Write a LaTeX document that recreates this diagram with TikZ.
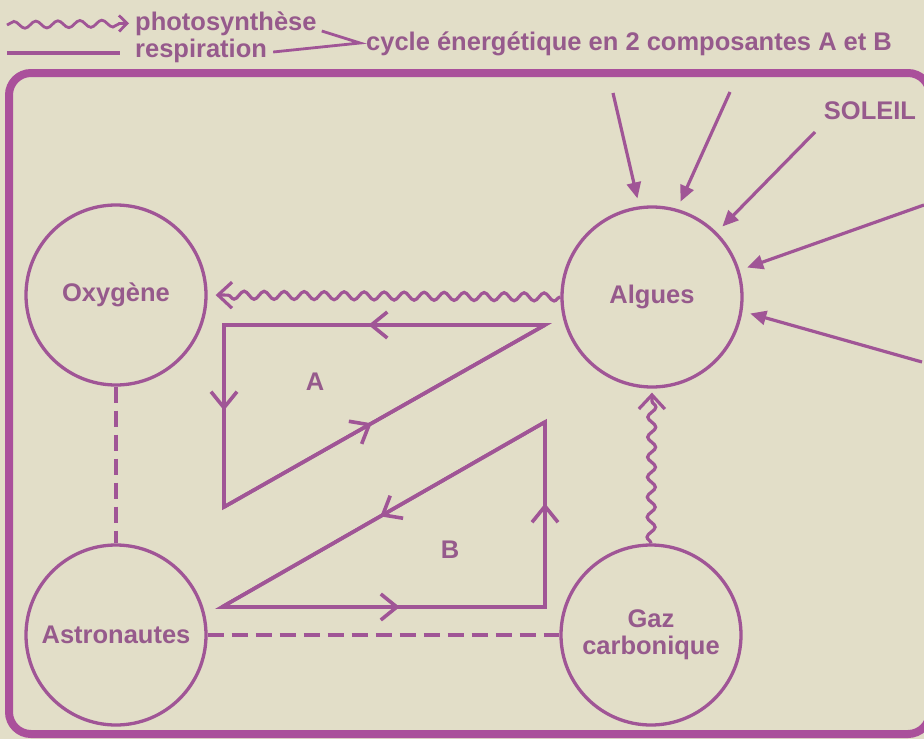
\documentclass[tikz,border=0pt]{standalone}
\usepackage{fontspec}
\setmainfont{Liberation Sans}
\usepackage{tikz}
\usetikzlibrary{arrows.meta,decorations.pathmorphing,decorations.markings}

\definecolor{paper}{HTML}{E2DEC8}
\definecolor{plum}{HTML}{A05596}
\definecolor{plumdark}{HTML}{AA509B}
\definecolor{ink}{HTML}{965A8C}

\newcommand{\lblfont}{\fontsize{25.5}{27}\selectfont\bfseries}

\tikzstyle{ball} = [circle, draw=plum, line width=3.3pt, minimum size=180pt, inner sep=0pt, text=ink, font=\lblfont, align=center]
\tikzstyle{lbl} = [text=ink, font=\lblfont, inner sep=0pt]
\tikzstyle{ray} = [draw=plum, line width=3.2pt, -{Triangle[length=16pt,width=14pt]}, shorten >=8pt]
\tikzstyle{wave} = [draw=plum, line width=3.2pt, decorate, decoration={snake, amplitude=4pt, segment length=20pt, post length=12pt}, -{Straight Barb[length=14pt,width=26pt]}]
\tikzstyle{flow} = [draw=plum, line width=3.6pt]
\tikzstyle{link} = [draw=plum, line width=3.3pt, dash pattern=on 16pt off 8pt]
\tikzset{tipat/.style={postaction={decorate, decoration={markings, mark=at position #1 with {\arrow{Straight Barb[length=16pt,width=26pt]}}}}}}

\begin{document}
\begin{tikzpicture}[x=1pt,y=-1pt]
			\fill[paper] (0,0) rectangle (924,739);
			\useasboundingbox (0,0) rectangle (924,739);
			% legend
			\coordinate (lw0) at (7,25);
			\coordinate (lr0) at (7,53);
			\coordinate (lr1) at (120,53);
			\coordinate (vtx) at (360,43);
			\node[lbl, anchor=base west] (photo) at (135,30) {photosynthèse};
			\node[lbl, anchor=base west] (resp) at (135,57) {respiration};
			\node[lbl, anchor=base west] (cyc) at (366,50) {cycle énergétique en 2 composantes A et B};
			\draw[wave, line width=2.8pt, decoration={snake, amplitude=3.5pt, segment length=22pt, post length=8pt}, -{Straight Barb[length=8pt,width=16pt]}] (lw0) -- ([xshift=-6pt]photo.west);
			\draw[plum, line width=4.5pt] (lr0) -- (lr1);
			\draw[plum, line width=2.8pt] ([xshift=5pt,yshift=-1pt]photo.base east) -- (vtx) -- ([xshift=6pt,yshift=5pt]resp.base east);
			% frame
			\draw[plumdark, line width=8pt, rounded corners=22pt] (9,73) rectangle (930,734);
			% circles
			\node[ball] (oxy) at (116,295) {Oxygène};
			\node[ball] (alg) at (652,297) {Algues};
			\node[ball] (astro) at (116,635) {Astronautes};
			\node[ball] (gaz) at (651,635) {Gaz\\carbonique};
			% sun
			\node[lbl] (soleil) at (870,111) {SOLEIL};
			\coordinate (s1) at (613,93);
			\coordinate (s2) at (730,92);
			\coordinate (s3) at (815,132);
			\coordinate (s4) at (924,205);
			\coordinate (s5) at (922,362);
			\foreach \s/\a in {s1/98, s2/74, s3/45, s4/17, s5/-9}
				\draw[ray] (\s) -- (alg.\a);
			% photosynthese
			\draw[wave, shorten >=8pt] (alg.west) -- (oxy.east);
			\draw[wave, shorten >=4pt] (gaz.north) -- (alg.south);
			% respiration
			\draw[link] (oxy.south) -- (astro.north);
			\draw[link] (astro.east) -- (gaz.west);
			% cycle A
			\coordinate (a1) at (545,325);
			\coordinate (a2) at (224,325);
			\coordinate (a3) at (224,507);
			\draw[flow] (a1) -- (a2) -- (a3) -- cycle;
			\draw[flow, tipat=0.55] (a1) -- (a2);
			\draw[flow, tipat=0.47] (a2) -- (a3);
			\draw[flow, tipat=0.46] (a3) -- (a1);
			\node[lbl] (la) at (315,382) {A};
			% cycle B
			\coordinate (b1) at (545,422);
			\coordinate (b2) at (222,607);
			\coordinate (b3) at (545,607);
			\draw[flow] (b1) -- (b2) -- (b3) -- cycle;
			\draw[flow, tipat=0.51] (b1) -- (b2);
			\draw[flow, tipat=0.55] (b2) -- (b3);
			\draw[flow, tipat=0.56] (b3) -- (b1);
			\node[lbl] (lb) at (450,550) {B};
\end{tikzpicture}
\end{document}
